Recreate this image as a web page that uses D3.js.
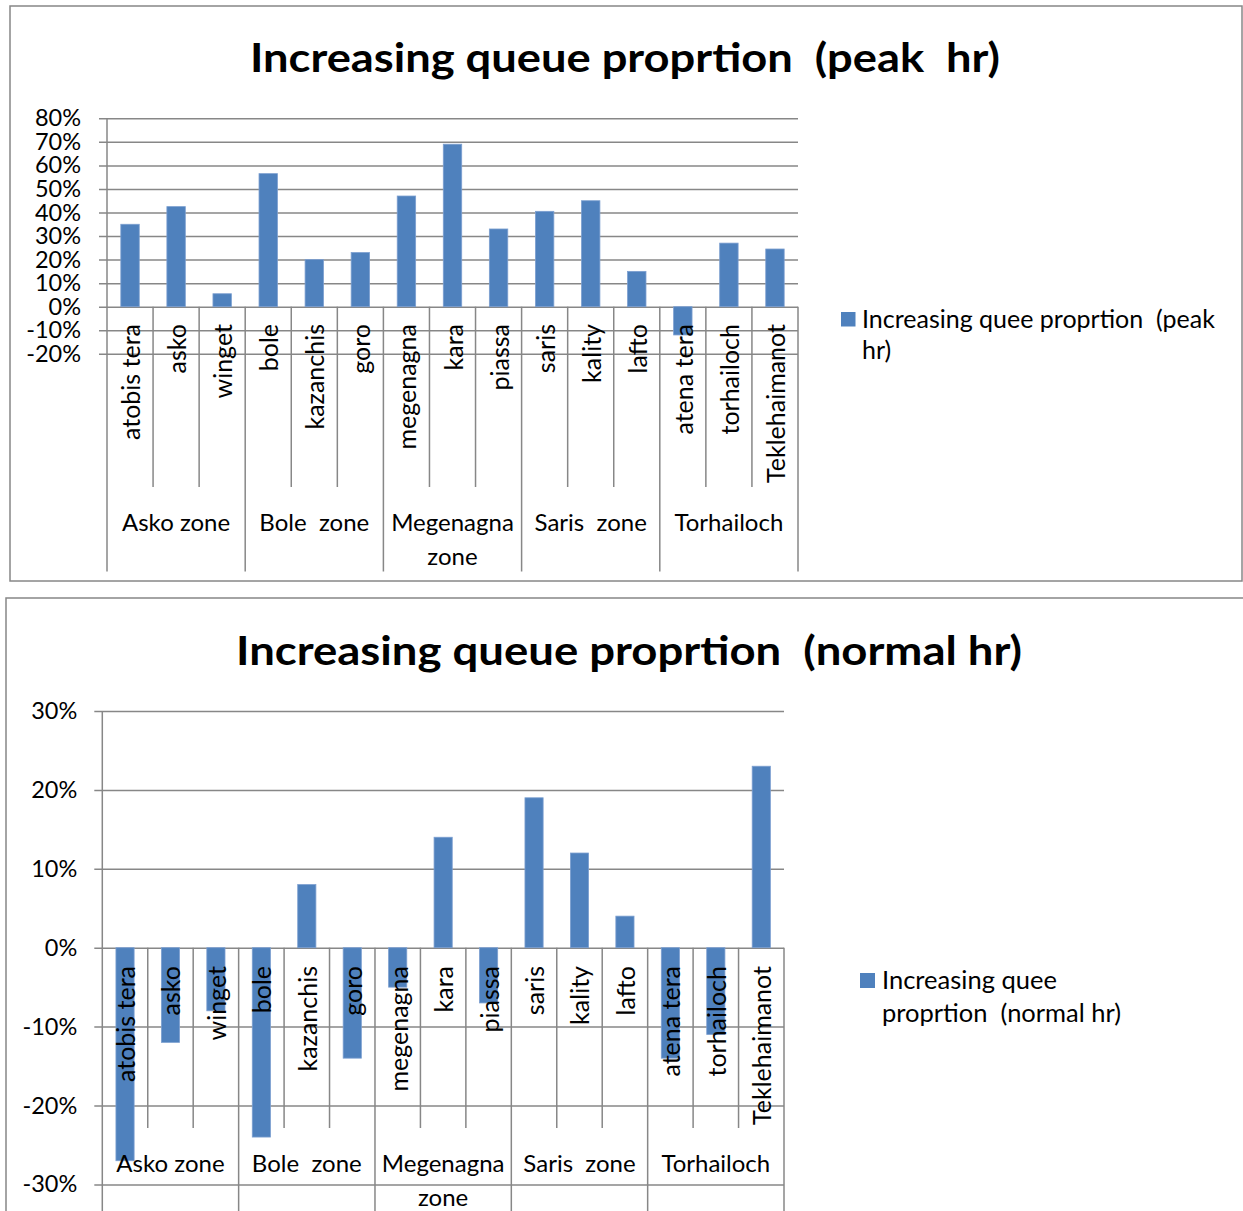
<!DOCTYPE html>
<html>
<head>
<meta charset="utf-8">
<script src="https://cdn.jsdelivr.net/npm/d3@7"></script>
<style>
  html, body { margin: 0; padding: 0; background: #fff; }
  svg { display: block; font-family: Lato, "Open Sans", sans-serif; }
  text { white-space: pre; fill: #000; }
</style>
</head>
<body>
<svg id="chart" width="1243" height="1211"></svg>
<script>
// Stations (categories) and the zones they belong to
const categories = ["atobis tera", "asko", "winget", "bole", "kazanchis", "goro",
  "megenagna", "kara", "piassa", "saris", "kality", "lafto",
  "atena tera", "torhailoch", "Teklehaimanot"];
const zoneNames = [["Asko zone"], ["Bole  zone"], ["Megenagna", "zone"], ["Saris  zone"], ["Torhailoch"]];
const zoneSizes = [3, 3, 3, 3, 3];

// Increase of queue proportion, in percent
const peakValues = [35, 42.5, 5.5, 56.5, 20, 23, 47, 69, 33, 40.5, 45, 15, -12, 27, 24.5];
const normalValues = [-27, -12, -8, -24, 8, -14, -5, 14, -7, 19, 12, 4, -14, -11, 23];

const peakTicks = [80, 70, 60, 50, 40, 30, 20, 10, 0, -10, -20];
const normalTicks = [30, 20, 10, 0, -10, -20, -30];

const peakTitle = "Increasing queue proprtion  (peak  hr)";
const normalTitle = "Increasing queue proprtion  (normal hr)";
const peakLegend = ["Increasing quee proprtion  (peak", "hr)"];
const normalLegend = ["Increasing quee", "proprtion  (normal hr)"];

const BAR = "#4F81BD", GRID = "#878787";
const svg = d3.select("#chart");

function drawChart(o) {
  const g = svg.append("g");

  // frame
  g.append("rect").attr("x", o.box[0]).attr("y", o.box[1])
    .attr("width", o.box[2]).attr("height", o.box[3])
    .attr("fill", "#fff").attr("stroke", GRID).attr("stroke-width", 1.5);

  // title, set to a fixed run length
  g.append("text").attr("x", o.titleX).attr("y", o.titleY)
    .attr("text-anchor", "middle").attr("font-weight", 700)
    .attr("font-size", o.titleSize)
    .attr("textLength", o.titleWidth).attr("lengthAdjust", "spacingAndGlyphs")
    .text(o.title);

  const x = d3.scaleBand().domain(categories).range([o.left, o.right]).paddingInner(0).paddingOuter(0);
  const y = d3.scaleLinear().domain(o.domain).range([o.bottom, o.top]);

  // value gridlines with ticks on the left
  const yAxis = d3.axisLeft(y).tickValues(o.ticks).tickSize(-(o.right - o.left) - o.tickOut)
    .tickFormat(d => d + "%").tickPadding(o.labelPad);
  const ya = g.append("g").attr("transform", `translate(${o.right},0)`).call(yAxis);
  ya.select(".domain").remove();
  ya.selectAll(".tick line").attr("stroke", GRID).attr("stroke-width", 1.5)
    .attr("x1", 0).attr("x2", -(o.right - o.left) - o.tickOut);
  ya.selectAll(".tick text").attr("x", -(o.right - o.left) - o.tickOut - o.labelPad)
    .attr("font-size", o.tickSize).attr("font-family", "Lato, sans-serif").attr("fill", "#000");

  // bars
  const bw = x.bandwidth() * 0.4;
  g.append("g").selectAll("rect").data(o.values).join("rect")
    .attr("x", (d, i) => x(categories[i]) + (x.bandwidth() - bw) / 2)
    .attr("y", d => y(Math.max(0, d)))
    .attr("width", bw)
    .attr("height", d => Math.abs(y(d) - y(0)))
    .attr("fill", BAR).attr("stroke", "#7c9fd0").attr("stroke-width", 0.8);

  // value axis line
  g.append("line").attr("x1", o.left).attr("x2", o.left)
    .attr("y1", o.top).attr("y2", o.frameBottom)
    .attr("stroke", GRID).attr("stroke-width", 1.5);

  // category separators: short between stations, long between zones
  const zoneEdges = new Set([0]);
  let acc = 0;
  zoneSizes.forEach(s => { acc += s; zoneEdges.add(acc); });
  const edges = d3.range(categories.length + 1);
  g.append("g").selectAll("line").data(edges.filter(i => i > 0)).join("line")
    .attr("x1", i => o.left + i * x.step()).attr("x2", i => o.left + i * x.step())
    .attr("y1", y(0))
    .attr("y2", i => zoneEdges.has(i) ? o.frameBottom : o.innerBottom)
    .attr("stroke", GRID).attr("stroke-width", 1.5);

  // station labels, rotated
  g.append("g").selectAll("text").data(categories).join("text")
    .attr("transform", d => `translate(${x(d) + x.bandwidth() / 2},${o.catTop}) rotate(-90)`)
    .attr("text-anchor", "end").attr("dominant-baseline", "central")
    .attr("font-size", o.catSize).text(d => d);

  // zone labels
  let start = 0;
  zoneSizes.forEach((s, zi) => {
    const cx = o.left + (start + s / 2) * x.step();
    const t = g.append("text").attr("text-anchor", "middle").attr("font-size", o.zoneSize);
    zoneNames[zi].forEach((line, li) => {
      t.append("tspan").attr("x", cx).attr("y", o.zoneY + li * o.zoneLine)
        .attr("dominant-baseline", "central").text(line);
    });
    start += s;
  });

  // legend
  g.append("rect").attr("x", o.legend[0]).attr("y", o.legend[1])
    .attr("width", o.legend[2]).attr("height", o.legend[2]).attr("fill", BAR);
  const lt = g.append("text").attr("font-size", o.legendSize);
  o.legendText.forEach((line, li) => {
    lt.append("tspan").attr("x", o.legendX).attr("y", o.legendY + li * o.legendLine).text(line);
  });
}

drawChart({
  box: [10, 6, 1232, 575],
  title: peakTitle, titleX: 625, titleY: 72, titleSize: 40, titleWidth: 750,
  left: 107, right: 798, top: 118.3, bottom: 353.8, domain: [-20, 80],
  ticks: peakTicks, tickOut: 8, labelPad: 18, tickSize: 23.5,
  values: peakValues,
  frameBottom: 571.5, innerBottom: 487, catTop: 324, catSize: 25, zoneSize: 24,
  zoneY: 521, zoneLine: 34,
  legend: [841, 312, 14.5], legendX: 862, legendY: 328, legendLine: 31,
  legendText: peakLegend, legendSize: 25
});

drawChart({
  box: [6, 598, 1245, 630],
  title: normalTitle, titleX: 629, titleY: 665, titleSize: 40, titleWidth: 786,
  left: 102.3, right: 784, top: 711, bottom: 1184.4, domain: [-30, 30],
  ticks: normalTicks, tickOut: 8, labelPad: 17, tickSize: 23.5,
  values: normalValues,
  frameBottom: 1215, innerBottom: 1128, catTop: 966, catSize: 25, zoneSize: 24,
  zoneY: 1162, zoneLine: 34,
  legend: [860, 973, 15], legendX: 882, legendY: 989, legendLine: 33,
  legendText: normalLegend, legendSize: 25.5
});
</script>
</body>
</html>
